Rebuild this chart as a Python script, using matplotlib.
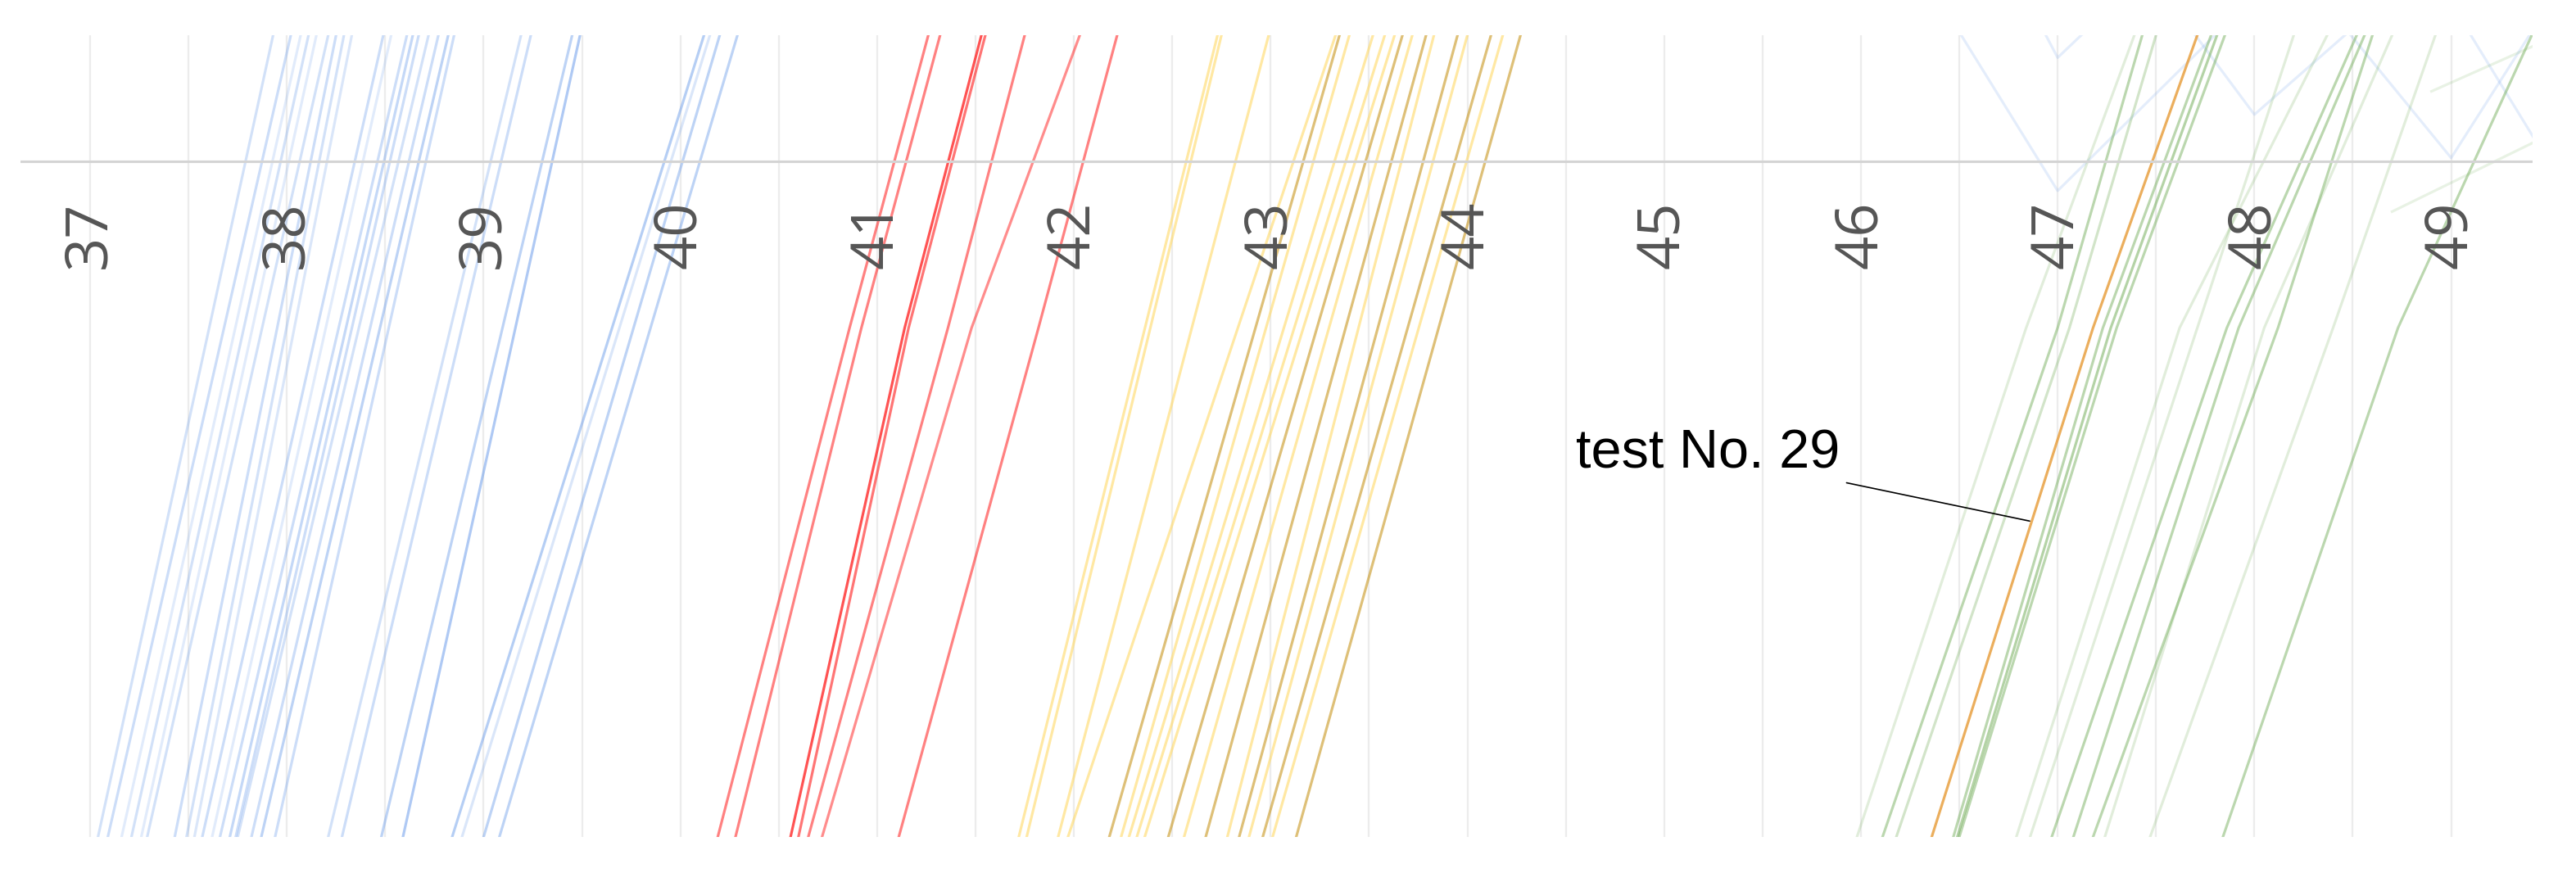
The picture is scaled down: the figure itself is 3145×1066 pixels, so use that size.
import matplotlib.pyplot as plt

# heights (as fraction of the plot) where the x values below were read
levels = [0.0, 0.635, 1.0]
axis_level = 0.843
label_level = 0.751

ticks = list(range(37, 50))
grid_x = [36.5 + 0.5 * k for k in range(1, 26)]

# blue group (straight lines): x at bottom and top edge
blue_bottom = [37.04, 37.09, 37.16, 37.21, 37.26, 37.29, 37.43, 37.49, 37.53, 37.57, 37.62, 37.66, 37.71,
               37.74, 37.75, 37.82, 37.87, 37.94, 38.21, 38.28, 38.48, 38.59, 38.84, 38.89, 39.00, 39.08]
blue_top = [37.93, 38.02, 38.07, 38.11, 38.15, 38.21, 38.25, 38.29, 38.33, 38.49, 38.53, 38.61, 38.64,
            38.67, 38.72, 38.77, 38.82, 38.85, 39.19, 39.24, 39.45, 39.49, 40.12, 40.15, 40.20, 40.29]
blue_alpha = [0.3, 0.35, 0.2, 0.3, 0.2, 0.3, 0.35, 0.3, 0.25, 0.35, 0.2, 0.35, 0.4,
              0.35, 0.3, 0.35, 0.45, 0.35, 0.3, 0.35, 0.45, 0.55, 0.5, 0.25, 0.45, 0.45]

# red group: x at bottom, middle and top
red_bottom = [40.19, 40.28, 40.56, 40.60, 40.65, 40.72, 41.11]
red_mid = [40.86, 40.92, 41.14, 41.16, 41.36, 41.48, 41.82]
red_top = [41.26, 41.32, 41.53, 41.55, 41.75, 42.03, 42.22]
red_alpha = [0.55, 0.55, 0.75, 0.6, 0.55, 0.5, 0.55]

# yellow group
yellow_bottom = [41.72, 41.76, 41.92, 41.97, 42.18, 42.24, 42.28, 42.32, 42.36, 42.48, 42.56, 42.67,
                 42.78, 42.84, 42.89, 42.96, 43.01, 43.13]
yellow_top = [42.73, 42.75, 42.99, 43.33, 43.35, 43.40, 43.52, 43.58, 43.63, 43.67, 43.72, 43.79,
              43.83, 43.95, 44.00, 44.12, 44.18, 44.27]
yellow_dark = [0, 0, 0, 0, 1, 0, 0, 0, 0, 1, 0, 1, 0, 1, 0, 1, 0, 1]

# green group
green_bottom = [45.98, 46.11, 46.18, 46.47, 46.49, 46.50, 46.79, 46.86, 46.97, 47.08, 47.18, 47.24, 47.47, 47.84]
green_mid = [46.84, 47.00, 47.06, 47.23, 47.27, 47.30, 47.62, 47.71, 47.86, 47.92, 48.12, 48.05, 48.40, 48.73]
green_top = [47.39, 47.43, 47.50, 47.78, 47.81, 47.85, 48.37, 48.20, 48.52, 48.56, 48.60, 48.70, 48.92, 49.41]
green_alpha = [0.2, 0.45, 0.3, 0.45, 0.5, 0.45, 0.2, 0.2, 0.45, 0.45, 0.45, 0.2, 0.2, 0.45]

# highlighted test
test29 = [46.36, 47.18, 47.71]

# faint traces in the upper right corner
zig_x = [[46.51, 47.0, 47.80], [46.94, 47.0, 47.12], [47.70, 48.0, 48.46], [48.49, 49.0, 49.45],
         [49.10, 49.45]]
zig_y = [[1.0, 0.806, 1.0], [1.0, 0.972, 1.0], [1.0, 0.901, 1.0], [1.0, 0.847, 1.02], [1.0, 0.86]]
faint_green_x = [[48.90, 49.45], [48.70, 49.45]]
faint_green_y = [[0.93, 0.99], [0.78, 0.87]]

fig = plt.figure(figsize=(31.45, 10.66), dpi=100)
ax = fig.add_axes([25 / 3145, 1 - 1022 / 1066, 3067 / 3145, 979 / 1066])
ax.set_xlim(36.646, 49.414)
ax.set_ylim(0, 1)
ax.axis('off')

lw = 2.3
ax.vlines(grid_x, 0, 1, color='#ececec', lw=1.6, zorder=0)

for x, y in zip(zig_x, zig_y):
    ax.plot(x, y, color='#6d9eeb', alpha=0.18, lw=lw, zorder=1)
for x, y in zip(faint_green_x, faint_green_y):
    ax.plot(x, y, color='#6aa84f', alpha=0.15, lw=lw, zorder=1)

for b, t, a in zip(blue_bottom, blue_top, blue_alpha):
    ax.plot([b, t], [levels[0], levels[2]], color='#6d9eeb', alpha=a, lw=lw, zorder=2)

for b, m, t, a in zip(red_bottom, red_mid, red_top, red_alpha):
    ax.plot([b, m, t], levels, color='#ff1a1a', alpha=a, lw=lw, zorder=2)

for b, t, d in zip(yellow_bottom, yellow_top, yellow_dark):
    if d:
        ax.plot([b, t], [levels[0], levels[2]], color='#c8961e', alpha=0.6, lw=lw, zorder=2)
    else:
        ax.plot([b, t], [levels[0], levels[2]], color='#ffd966', alpha=0.6, lw=lw, zorder=2)

for b, m, t, a in zip(green_bottom, green_mid, green_top, green_alpha):
    ax.plot([b, m, t], levels, color='#6aa84f', alpha=a, lw=lw, zorder=2)

ax.plot(test29, levels, color='#e8a040', alpha=0.85, lw=lw, zorder=3)

ax.axhline(axis_level, color='#d4d4d4', lw=2.2, zorder=4)
for t in ticks:
    ax.text(t, label_level, str(t), rotation=90, ha='center', va='center',
            fontsize=52, color='#555555', family='Open Sans', zorder=5)

ax.annotate('test No. 29', xy=(46.858, 0.394), xytext=(44.55, 0.478),
            ha='left', va='center', fontsize=48, family='Liberation Sans', color='black',
            arrowprops=dict(arrowstyle='-', color='black', lw=1.2, shrinkA=6, shrinkB=0), zorder=6)

fig.savefig('out.png', dpi=100, facecolor='white')
